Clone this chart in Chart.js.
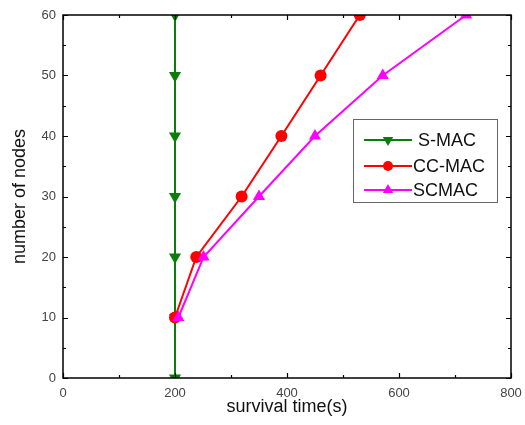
<!DOCTYPE html>
<html>
<head>
<meta charset="utf-8">
<script src="https://cdn.jsdelivr.net/npm/chart.js@4/dist/chart.umd.min.js"></script>
<style>
  body { margin: 0; background: #fff; }
</style>
</head>
<body>
<canvas id="chart" width="525" height="425"></canvas>
<script>
// ---------- Data ----------
const seriesNames = ["S-MAC", "CC-MAC", "SCMAC"];
const smacX = [200, 200, 200, 200, 200, 200, 200];
const smacY = [0, 10, 20, 30, 40, 50, 60];
const ccmacX = [200, 238, 319, 390, 460, 530];
const ccmacY = [10, 20, 30, 40, 50, 60];
const scmacX = [206, 251, 350, 450, 571, 720];
const scmacY = [10, 20, 30, 40, 50, 60];
const xTicks = [0, 200, 400, 600, 800];
const yTicks = [0, 10, 20, 30, 40, 50, 60];

const pts = (xs, ys) => xs.map((x, i) => ({ x: x, y: ys[i] }));

const FONT = "Arial, 'Liberation Sans', sans-serif";

// ---------- Inward ticks on all four sides ----------
const frameTicks = {
  id: "frameTicks",
  afterDraw(chart) {
    const { ctx, chartArea: a, scales } = chart;
    const x = scales.x, y = scales.y;
    ctx.save();
    ctx.strokeStyle = "#000";
    ctx.lineWidth = 1.2;
    ctx.beginPath();
    for (let v = 0; v <= 800; v += 100) {
      const px = Math.round(x.getPixelForValue(v)) + 0.5;
      const len = v % 200 === 0 ? 5 : 3;
      ctx.moveTo(px, a.bottom); ctx.lineTo(px, a.bottom - len);
      ctx.moveTo(px, a.top); ctx.lineTo(px, a.top + len);
    }
    for (let v = 0; v <= 60; v += 5) {
      const py = Math.round(y.getPixelForValue(v)) + 0.5;
      const len = v % 10 === 0 ? 5 : 3;
      ctx.moveTo(a.left, py); ctx.lineTo(a.left + len, py);
      ctx.moveTo(a.right, py); ctx.lineTo(a.right - len, py);
    }
    ctx.stroke();
    ctx.lineWidth = 1.5;
    ctx.strokeRect(a.left, a.top, a.right - a.left, a.bottom - a.top);
    ctx.restore();
  }
};

// ---------- Legend box inside the plot ----------
const boxLegend = {
  id: "boxLegend",
  afterDraw(chart) {
    const { ctx, chartArea: a } = chart;
    const left = a.right - 158, top = a.top + 104, w = 144, h = 83;
    ctx.save();
    ctx.fillStyle = "#fff";
    ctx.fillRect(left, top, w, h);
    ctx.strokeStyle = "#666";
    ctx.lineWidth = 1;
    ctx.strokeRect(left + 0.5, top + 0.5, w, h);
    const rows = [21, 47, 71];
    chart.data.datasets.forEach((ds, i) => {
      const cy = top + rows[i];
      ctx.strokeStyle = ds.borderColor;
      ctx.lineWidth = 2;
      ctx.beginPath();
      ctx.moveTo(left + 11, cy);
      ctx.lineTo(left + 59, cy);
      ctx.stroke();
      ctx.fillStyle = ds.pointBackgroundColor;
      Chart.helpers.drawPoint(ctx, {
        pointStyle: ds.pointStyle,
        radius: ds.pointStyle === "circle" ? 5 : 6,
        rotation: ds.pointRotation || 0,
        borderWidth: 0
      }, left + 35, cy);
      ctx.fillStyle = "#111";
      ctx.font = "18px " + FONT;
      ctx.textBaseline = "middle";
      ctx.textAlign = "left";
      ctx.fillText(ds.label, left + (i === 0 ? 65 : 60), cy + 1);
    });
    ctx.restore();
  }
};

// ---------- Chart ----------
new Chart(document.getElementById("chart").getContext("2d"), {
  type: "scatter",
  data: {
    datasets: [
      {
        label: seriesNames[0],
        data: pts(smacX, smacY),
        showLine: true,
        borderColor: "#0a7d0a",
        backgroundColor: "#0a7d0a",
        pointBackgroundColor: "#0a7d0a",
        borderWidth: 2,
        pointStyle: "triangle",
        pointRotation: 180,
        pointRadius: 7,
        pointBorderWidth: 0,
        order: 3
      },
      {
        label: seriesNames[1],
        data: pts(ccmacX, ccmacY),
        showLine: true,
        borderColor: "#ff0000",
        backgroundColor: "#ff0000",
        pointBackgroundColor: "#ff0000",
        borderWidth: 2,
        pointStyle: "circle",
        pointRadius: 6,
        pointBorderWidth: 0,
        order: 2
      },
      {
        label: seriesNames[2],
        data: pts(scmacX, scmacY),
        showLine: true,
        borderColor: "#ff00ff",
        backgroundColor: "#ff00ff",
        pointBackgroundColor: "#ff00ff",
        borderWidth: 2,
        pointStyle: "triangle",
        pointRadius: 7,
        pointBorderWidth: 0,
        order: 1
      }
    ]
  },
  options: {
    responsive: false,
    animation: false,
    layout: { padding: { top: 15, right: 14, left: 0, bottom: 0 } },
    plugins: {
      legend: { display: false },
      tooltip: { enabled: false }
    },
    scales: {
      x: {
        type: "linear",
        min: 0,
        max: 800,
        afterBuildTicks: s => { s.ticks = xTicks.map(v => ({ value: v })); },
        afterFit: s => { s.height = 47; s.paddingLeft = 0; s.paddingRight = 0; },
        grid: { display: false, drawTicks: false },
        border: { display: false },
        ticks: { color: "#444", font: { family: FONT, size: 13 }, padding: 8, maxRotation: 0 },
        title: {
          display: true,
          text: "survival time(s)",
          color: "#111",
          font: { family: FONT, size: 18 },
          padding: { top: 0, bottom: 7 }
        }
      },
      y: {
        type: "linear",
        min: 0,
        max: 60,
        afterBuildTicks: s => { s.ticks = yTicks.map(v => ({ value: v })); },
        afterFit: s => { s.width = 63; s.paddingTop = 0; s.paddingBottom = 0; },
        grid: { display: false, drawTicks: false },
        border: { display: false },
        ticks: { color: "#444", font: { family: FONT, size: 13 }, padding: 7 },
        title: {
          display: true,
          text: "number of nodes",
          color: "#111",
          font: { family: FONT, size: 18 },
          padding: { top: 9, bottom: 0 }
        }
      }
    }
  },
  plugins: [frameTicks, boxLegend]
});
</script>
</body>
</html>
